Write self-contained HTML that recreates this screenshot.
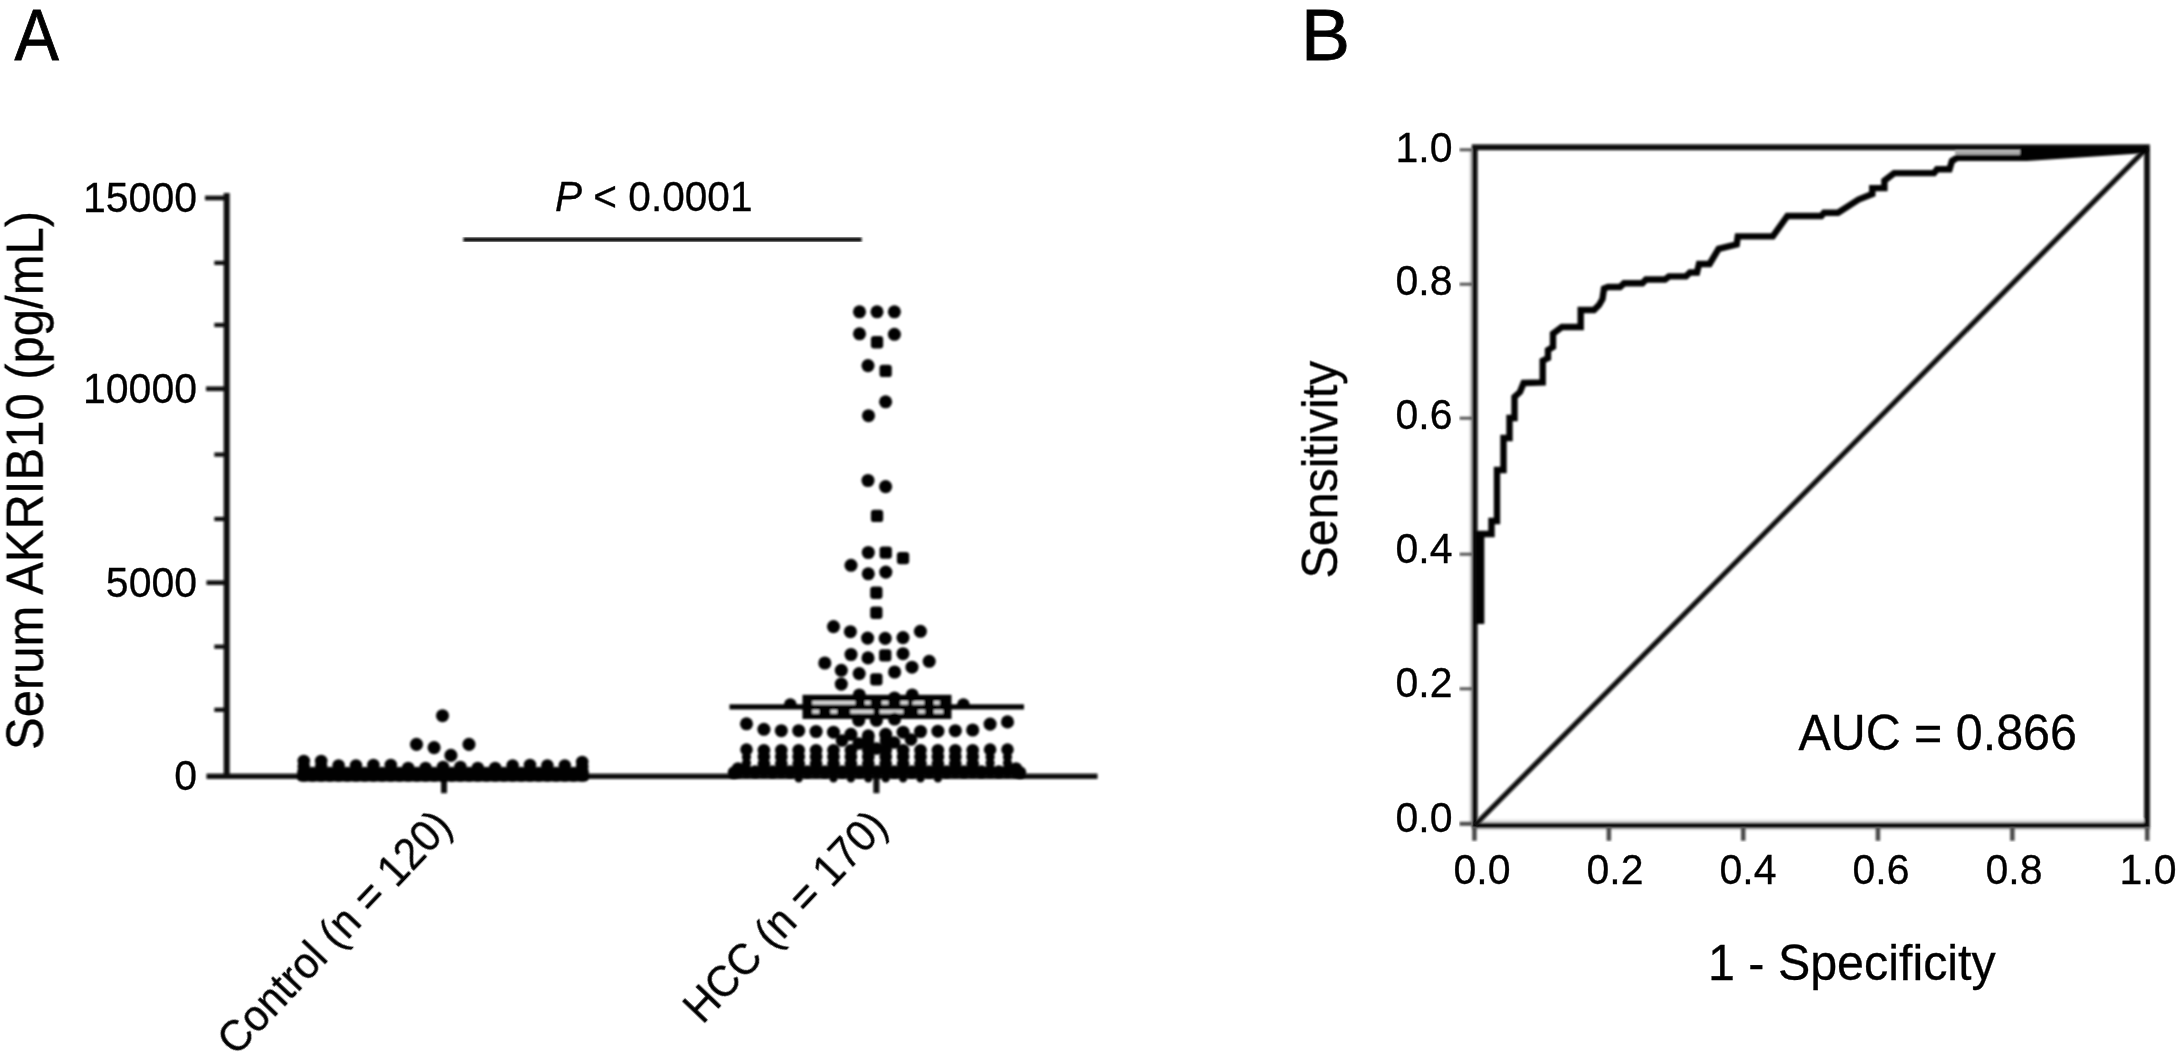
<!DOCTYPE html>
<html>
<head>
<meta charset="utf-8">
<title>Serum AKR1B10 in HCC</title>
<style>
html,body{margin:0;padding:0;background:#fff;}
body{width:2176px;height:1064px;overflow:hidden;}
svg{display:block;}
text{font-family:"Liberation Sans",sans-serif;fill:#000;stroke:#000;stroke-width:0.3px;}
.t40{font-size:41px;}
.t48{font-size:48.4px;}
.t68{font-size:70px;stroke-width:0.8px;}
</style>
</head>
<body>
<svg width="2176" height="1064" viewBox="0 0 2176 1064">
<rect x="0" y="0" width="2176" height="1064" fill="#ffffff"/>
<defs>
<filter id="soft" x="-2%" y="-2%" width="104%" height="104%"><feGaussianBlur stdDeviation="0.8"/></filter>
<filter id="soft2" x="-2%" y="-2%" width="104%" height="104%"><feGaussianBlur stdDeviation="1.3"/></filter>
</defs>

<!-- ================= PANEL A ================= -->
<g id="panelA" opacity="0.999">
<text class="t68" transform="translate(14.5,59.7) scale(0.95,1.03)">A</text>

<!-- axes A -->
<g fill="#0a0a0a" filter="url(#soft)">
<rect x="223.7" y="193" width="6" height="585.5"/>
<rect x="206.5" y="773.6" width="891" height="5.4"/>
<rect x="205" y="195.7" width="20" height="4.6"/>
<rect x="206" y="386.5" width="20" height="4.6"/>
<rect x="206.5" y="580.4" width="20" height="4.6"/>
<rect x="214.3" y="260.8" width="12" height="4.2"/>
<rect x="214.3" y="322.9" width="12" height="4.2"/>
<rect x="214.3" y="452.5" width="12" height="4.2"/>
<rect x="214.3" y="516.9" width="12" height="4.2"/>
<rect x="214.3" y="644.6" width="12" height="4.2"/>
<rect x="214.3" y="707.7" width="12" height="4.2"/>
<rect x="441" y="776" width="6" height="17.2"/>
<rect x="873.4" y="776" width="6" height="17.2"/>
</g>

<!-- y tick labels -->
<g class="t40" text-anchor="end">
<text transform="translate(197,211.5) scale(1,1.05)">15000</text>
<text transform="translate(197,403) scale(1,1.05)">10000</text>
<text transform="translate(197,597) scale(1,1.05)">5000</text>
<text transform="translate(197,790.2) scale(1,1.05)">0</text>
</g>

<!-- y axis title -->
<text style="font-size:49px" transform="translate(42.5,750) rotate(-90) scale(1,1.04)">Serum AKRIB10 (pg/mL)</text>

<!-- P value -->
<text style="font-size:40.6px" transform="translate(555,211) scale(1,1.055)"><tspan font-style="italic">P</tspan> &lt; 0.0001</text>
<rect x="463.3" y="237.3" width="398.4" height="4.6" fill="#0a0a0a" filter="url(#soft)"/>

<!-- category labels -->
<text style="font-size:42px" text-anchor="end" transform="translate(454,828) rotate(-46.5) scale(1,1.05)">Control (n = 120)</text>
<text style="font-size:42px" text-anchor="end" transform="translate(889.5,828) rotate(-46.5) scale(1,1.05)">HCC (n = 170)</text>

<g id="dotsA" fill="#050505" filter="url(#soft2)">

<rect x="297.3" y="768" width="291.4" height="13.6" rx="4" fill="#050505"/>
<rect x="729.5" y="704.3" width="294.5" height="5.2" fill="#050505"/>
<rect x="802.5" y="694.8" width="149" height="24.2" fill="#050505"/>
<rect x="812.3" y="701.0" width="43.0" height="3.6" fill="#d8d8d8"/>
<rect x="864.9" y="701.0" width="5.7" height="3.6" fill="#d8d8d8"/>
<rect x="881.8" y="701.0" width="6.6" height="3.6" fill="#d8d8d8"/>
<rect x="900.4" y="701.0" width="7.5" height="3.6" fill="#d8d8d8"/>
<rect x="912.4" y="701.0" width="11.6" height="3.6" fill="#d8d8d8"/>
<rect x="933.9" y="701.0" width="5.8" height="3.6" fill="#d8d8d8"/>
<rect x="812.3" y="709.8" width="6.7" height="3.8" fill="#d8d8d8"/>
<rect x="830.5" y="709.8" width="6.6" height="3.8" fill="#d8d8d8"/>
<rect x="850.4" y="709.8" width="23.1" height="3.8" fill="#d8d8d8"/>
<rect x="879.7" y="709.8" width="23.6" height="3.8" fill="#d8d8d8"/>
<rect x="918.2" y="709.8" width="6.6" height="3.8" fill="#d8d8d8"/>
<rect x="933.9" y="709.8" width="9.1" height="3.8" fill="#d8d8d8"/>
<circle cx="859.5" cy="311.8" r="6.55"/>
<circle cx="877.0" cy="311.8" r="6.55"/>
<circle cx="894.4" cy="311.8" r="6.55"/>
<circle cx="859.5" cy="333.8" r="6.55"/>
<rect x="870.9" y="336.1" width="12.3" height="12.3" rx="3.2"/>
<circle cx="894.4" cy="334.3" r="6.55"/>
<circle cx="868.0" cy="365.6" r="6.55"/>
<rect x="879.5" y="364.8" width="12.3" height="12.3" rx="3.2"/>
<circle cx="885.6" cy="401.8" r="6.55"/>
<circle cx="868.5" cy="415.7" r="6.55"/>
<circle cx="868.0" cy="480.5" r="6.55"/>
<circle cx="885.6" cy="486.6" r="6.55"/>
<rect x="870.9" y="509.8" width="12.3" height="12.3" rx="3.2"/>
<circle cx="868.3" cy="552.5" r="6.55"/>
<rect x="879.6" y="546.4" width="12.3" height="12.3" rx="3.2"/>
<rect x="896.9" y="551.9" width="12.3" height="12.3" rx="3.2"/>
<circle cx="851.0" cy="565.3" r="6.55"/>
<circle cx="868.3" cy="573.8" r="6.55"/>
<circle cx="885.8" cy="572.1" r="6.55"/>
<rect x="870.2" y="586.6" width="12.3" height="12.3" rx="3.2"/>
<rect x="870.2" y="606.6" width="12.3" height="12.3" rx="3.2"/>
<circle cx="833.5" cy="626.6" r="6.55"/>
<circle cx="850.4" cy="631.7" r="6.55"/>
<circle cx="867.6" cy="638.1" r="6.55"/>
<circle cx="885.2" cy="638.4" r="6.55"/>
<circle cx="903.0" cy="637.6" r="6.55"/>
<circle cx="920.4" cy="631.3" r="6.55"/>
<circle cx="851.0" cy="654.5" r="6.55"/>
<circle cx="868.0" cy="657.9" r="6.55"/>
<rect x="879.1" y="649.2" width="12.3" height="12.3" rx="3.2"/>
<circle cx="903.0" cy="653.7" r="6.55"/>
<circle cx="824.8" cy="663.0" r="6.55"/>
<circle cx="929.2" cy="661.3" r="6.55"/>
<circle cx="841.3" cy="670.3" r="6.55"/>
<circle cx="859.2" cy="673.6" r="6.55"/>
<rect x="870.2" y="673.2" width="12.3" height="12.3" rx="3.2"/>
<circle cx="894.6" cy="672.0" r="6.55"/>
<circle cx="912.0" cy="667.2" r="6.55"/>
<circle cx="841.3" cy="684.1" r="6.55"/>
<circle cx="859.3" cy="695.0" r="6.55"/>
<circle cx="894.5" cy="698.0" r="6.55"/>
<circle cx="912.2" cy="695.0" r="6.55"/>
<circle cx="858.7" cy="720.3" r="6.55"/>
<circle cx="876.4" cy="720.3" r="6.55"/>
<circle cx="894.6" cy="719.0" r="6.55"/>
<circle cx="746.5" cy="723.8" r="6.55"/>
<circle cx="763.9" cy="729.3" r="6.55"/>
<circle cx="781.3" cy="730.7" r="6.55"/>
<circle cx="798.7" cy="730.7" r="6.55"/>
<circle cx="816.1" cy="731.5" r="6.55"/>
<circle cx="833.5" cy="732.2" r="6.55"/>
<circle cx="850.9" cy="734.4" r="6.55"/>
<circle cx="868.3" cy="735.9" r="6.55"/>
<circle cx="885.7" cy="734.4" r="6.55"/>
<circle cx="903.1" cy="732.2" r="6.55"/>
<circle cx="920.5" cy="731.5" r="6.55"/>
<circle cx="937.9" cy="731.2" r="6.55"/>
<circle cx="955.3" cy="730.7" r="6.55"/>
<circle cx="972.7" cy="730.0" r="6.55"/>
<circle cx="990.1" cy="724.1" r="6.55"/>
<circle cx="1007.5" cy="721.9" r="6.55"/>
<circle cx="442.5" cy="715.7" r="6.55"/>
<circle cx="416.5" cy="744.4" r="6.55"/>
<circle cx="434.1" cy="747.6" r="6.55"/>
<circle cx="469.0" cy="744.4" r="6.55"/>
<circle cx="450.9" cy="755.4" r="6.55"/>
<circle cx="842.0" cy="740.5" r="6.3"/>
<circle cx="858.7" cy="743.5" r="6.3"/>
<circle cx="876.5" cy="748.5" r="6.3"/>
<circle cx="894.2" cy="742.5" r="6.3"/>
<circle cx="911.0" cy="739.5" r="6.3"/>
<circle cx="868.0" cy="741.0" r="6.3"/>
<circle cx="886.0" cy="741.0" r="6.3"/>
<circle cx="746.5" cy="749.6" r="6.3"/>
<circle cx="746.5" cy="771.0" r="6.3"/>
<circle cx="763.9" cy="750.3" r="6.3"/>
<circle cx="763.9" cy="757.0" r="6.3"/>
<circle cx="763.9" cy="764.0" r="6.3"/>
<circle cx="763.9" cy="771.0" r="6.3"/>
<circle cx="781.3" cy="750.3" r="6.3"/>
<circle cx="781.3" cy="757.0" r="6.3"/>
<circle cx="781.3" cy="764.0" r="6.3"/>
<circle cx="781.3" cy="771.0" r="6.3"/>
<circle cx="798.7" cy="750.3" r="6.3"/>
<circle cx="798.7" cy="757.0" r="6.3"/>
<circle cx="798.7" cy="764.0" r="6.3"/>
<circle cx="798.7" cy="771.0" r="6.3"/>
<circle cx="816.1" cy="750.3" r="6.3"/>
<circle cx="816.1" cy="757.0" r="6.3"/>
<circle cx="816.1" cy="764.0" r="6.3"/>
<circle cx="816.1" cy="771.0" r="6.3"/>
<circle cx="833.5" cy="750.3" r="6.3"/>
<circle cx="833.5" cy="757.0" r="6.3"/>
<circle cx="833.5" cy="764.0" r="6.3"/>
<circle cx="833.5" cy="771.0" r="6.3"/>
<circle cx="850.9" cy="750.3" r="6.3"/>
<circle cx="850.9" cy="757.0" r="6.3"/>
<circle cx="850.9" cy="764.0" r="6.3"/>
<circle cx="850.9" cy="771.0" r="6.3"/>
<circle cx="868.3" cy="750.3" r="6.3"/>
<circle cx="868.3" cy="757.0" r="6.3"/>
<circle cx="868.3" cy="764.0" r="6.3"/>
<circle cx="868.3" cy="771.0" r="6.3"/>
<circle cx="885.7" cy="750.3" r="6.3"/>
<circle cx="885.7" cy="757.0" r="6.3"/>
<circle cx="885.7" cy="764.0" r="6.3"/>
<circle cx="885.7" cy="771.0" r="6.3"/>
<circle cx="903.1" cy="750.3" r="6.3"/>
<circle cx="903.1" cy="757.0" r="6.3"/>
<circle cx="903.1" cy="764.0" r="6.3"/>
<circle cx="903.1" cy="771.0" r="6.3"/>
<circle cx="920.5" cy="750.3" r="6.3"/>
<circle cx="920.5" cy="757.0" r="6.3"/>
<circle cx="920.5" cy="764.0" r="6.3"/>
<circle cx="920.5" cy="771.0" r="6.3"/>
<circle cx="937.9" cy="750.3" r="6.3"/>
<circle cx="937.9" cy="757.0" r="6.3"/>
<circle cx="937.9" cy="764.0" r="6.3"/>
<circle cx="937.9" cy="771.0" r="6.3"/>
<circle cx="955.3" cy="750.3" r="6.3"/>
<circle cx="955.3" cy="757.0" r="6.3"/>
<circle cx="955.3" cy="764.0" r="6.3"/>
<circle cx="955.3" cy="771.0" r="6.3"/>
<circle cx="972.7" cy="750.3" r="6.3"/>
<circle cx="972.7" cy="757.0" r="6.3"/>
<circle cx="972.7" cy="764.0" r="6.3"/>
<circle cx="972.7" cy="771.0" r="6.3"/>
<circle cx="990.1" cy="749.6" r="6.3"/>
<circle cx="990.1" cy="771.0" r="6.3"/>
<circle cx="1007.5" cy="749.6" r="6.3"/>
<circle cx="1007.5" cy="771.0" r="6.3"/>
<circle cx="737.8" cy="771.5" r="6.3"/>
<circle cx="755.2" cy="771.5" r="6.3"/>
<circle cx="772.6" cy="771.5" r="6.3"/>
<circle cx="790.0" cy="771.5" r="6.3"/>
<circle cx="807.4" cy="771.5" r="6.3"/>
<circle cx="824.8" cy="771.5" r="6.3"/>
<circle cx="842.2" cy="771.5" r="6.3"/>
<circle cx="859.6" cy="771.5" r="6.3"/>
<circle cx="877.0" cy="771.5" r="6.3"/>
<circle cx="894.4" cy="771.5" r="6.3"/>
<circle cx="911.8" cy="771.5" r="6.3"/>
<circle cx="929.2" cy="771.5" r="6.3"/>
<circle cx="946.6" cy="771.5" r="6.3"/>
<circle cx="964.0" cy="771.5" r="6.3"/>
<circle cx="981.4" cy="771.5" r="6.3"/>
<circle cx="998.8" cy="771.5" r="6.3"/>
<circle cx="1016.2" cy="771.5" r="6.3"/>
<circle cx="738.0" cy="768.5" r="6.3"/>
<circle cx="734.0" cy="772.5" r="6.3"/>
<circle cx="1016.0" cy="768.5" r="6.3"/>
<circle cx="1020.0" cy="772.5" r="6.3"/>
<circle cx="303.8" cy="761.0" r="6.3"/>
<circle cx="303.8" cy="766.5" r="6.3"/>
<circle cx="303.8" cy="772.0" r="6.3"/>
<circle cx="303.8" cy="775.5" r="6.3"/>
<circle cx="321.2" cy="761.0" r="6.3"/>
<circle cx="321.2" cy="766.5" r="6.3"/>
<circle cx="321.2" cy="772.0" r="6.3"/>
<circle cx="321.2" cy="775.5" r="6.3"/>
<circle cx="338.6" cy="765.5" r="6.3"/>
<circle cx="338.6" cy="768.8" r="6.3"/>
<circle cx="338.6" cy="772.0" r="6.3"/>
<circle cx="338.6" cy="775.5" r="6.3"/>
<circle cx="356.0" cy="765.5" r="6.3"/>
<circle cx="356.0" cy="768.8" r="6.3"/>
<circle cx="356.0" cy="772.0" r="6.3"/>
<circle cx="356.0" cy="775.5" r="6.3"/>
<circle cx="373.4" cy="765.0" r="6.3"/>
<circle cx="373.4" cy="768.5" r="6.3"/>
<circle cx="373.4" cy="772.0" r="6.3"/>
<circle cx="373.4" cy="775.5" r="6.3"/>
<circle cx="390.8" cy="765.0" r="6.3"/>
<circle cx="390.8" cy="768.5" r="6.3"/>
<circle cx="390.8" cy="772.0" r="6.3"/>
<circle cx="390.8" cy="775.5" r="6.3"/>
<circle cx="408.2" cy="768.0" r="6.3"/>
<circle cx="408.2" cy="770.0" r="6.3"/>
<circle cx="408.2" cy="772.0" r="6.3"/>
<circle cx="408.2" cy="775.5" r="6.3"/>
<circle cx="425.6" cy="768.0" r="6.3"/>
<circle cx="425.6" cy="770.0" r="6.3"/>
<circle cx="425.6" cy="772.0" r="6.3"/>
<circle cx="425.6" cy="775.5" r="6.3"/>
<circle cx="443.0" cy="767.0" r="6.3"/>
<circle cx="443.0" cy="769.5" r="6.3"/>
<circle cx="443.0" cy="772.0" r="6.3"/>
<circle cx="443.0" cy="775.5" r="6.3"/>
<circle cx="460.4" cy="767.0" r="6.3"/>
<circle cx="460.4" cy="769.5" r="6.3"/>
<circle cx="460.4" cy="772.0" r="6.3"/>
<circle cx="460.4" cy="775.5" r="6.3"/>
<circle cx="477.8" cy="768.0" r="6.3"/>
<circle cx="477.8" cy="770.0" r="6.3"/>
<circle cx="477.8" cy="772.0" r="6.3"/>
<circle cx="477.8" cy="775.5" r="6.3"/>
<circle cx="495.2" cy="768.0" r="6.3"/>
<circle cx="495.2" cy="770.0" r="6.3"/>
<circle cx="495.2" cy="772.0" r="6.3"/>
<circle cx="495.2" cy="775.5" r="6.3"/>
<circle cx="512.6" cy="765.5" r="6.3"/>
<circle cx="512.6" cy="768.8" r="6.3"/>
<circle cx="512.6" cy="772.0" r="6.3"/>
<circle cx="512.6" cy="775.5" r="6.3"/>
<circle cx="530.0" cy="765.0" r="6.3"/>
<circle cx="530.0" cy="768.5" r="6.3"/>
<circle cx="530.0" cy="772.0" r="6.3"/>
<circle cx="530.0" cy="775.5" r="6.3"/>
<circle cx="547.4" cy="765.5" r="6.3"/>
<circle cx="547.4" cy="768.8" r="6.3"/>
<circle cx="547.4" cy="772.0" r="6.3"/>
<circle cx="547.4" cy="775.5" r="6.3"/>
<circle cx="564.8" cy="765.5" r="6.3"/>
<circle cx="564.8" cy="768.8" r="6.3"/>
<circle cx="564.8" cy="772.0" r="6.3"/>
<circle cx="564.8" cy="775.5" r="6.3"/>
<circle cx="582.2" cy="762.0" r="6.3"/>
<circle cx="582.2" cy="767.0" r="6.3"/>
<circle cx="582.2" cy="772.0" r="6.3"/>
<circle cx="582.2" cy="775.5" r="6.3"/>
<circle cx="312.5" cy="773.0" r="6.3"/>
<circle cx="312.5" cy="775.5" r="6.3"/>
<circle cx="329.9" cy="773.0" r="6.3"/>
<circle cx="329.9" cy="775.5" r="6.3"/>
<circle cx="347.3" cy="773.0" r="6.3"/>
<circle cx="347.3" cy="775.5" r="6.3"/>
<circle cx="364.7" cy="773.0" r="6.3"/>
<circle cx="364.7" cy="775.5" r="6.3"/>
<circle cx="382.1" cy="773.0" r="6.3"/>
<circle cx="382.1" cy="775.5" r="6.3"/>
<circle cx="399.5" cy="773.0" r="6.3"/>
<circle cx="399.5" cy="775.5" r="6.3"/>
<circle cx="416.9" cy="773.0" r="6.3"/>
<circle cx="416.9" cy="775.5" r="6.3"/>
<circle cx="434.3" cy="773.0" r="6.3"/>
<circle cx="434.3" cy="775.5" r="6.3"/>
<circle cx="451.7" cy="773.0" r="6.3"/>
<circle cx="451.7" cy="775.5" r="6.3"/>
<circle cx="469.1" cy="773.0" r="6.3"/>
<circle cx="469.1" cy="775.5" r="6.3"/>
<circle cx="486.5" cy="773.0" r="6.3"/>
<circle cx="486.5" cy="775.5" r="6.3"/>
<circle cx="503.9" cy="773.0" r="6.3"/>
<circle cx="503.9" cy="775.5" r="6.3"/>
<circle cx="521.3" cy="773.0" r="6.3"/>
<circle cx="521.3" cy="775.5" r="6.3"/>
<circle cx="538.7" cy="773.0" r="6.3"/>
<circle cx="538.7" cy="775.5" r="6.3"/>
<circle cx="556.1" cy="773.0" r="6.3"/>
<circle cx="556.1" cy="775.5" r="6.3"/>
<circle cx="573.5" cy="773.0" r="6.3"/>
<circle cx="573.5" cy="775.5" r="6.3"/>
<circle cx="746.5" cy="757.0" r="4.6"/>
<circle cx="746.5" cy="763.0" r="4.6"/>
<circle cx="990.1" cy="757.0" r="4.6"/>
<circle cx="990.1" cy="763.0" r="4.6"/>
<circle cx="1007.5" cy="757.0" r="4.6"/>
<circle cx="1007.5" cy="763.0" r="4.6"/>
<circle cx="798.7" cy="778.8" r="3.8"/>
<circle cx="833.5" cy="778.8" r="3.8"/>
<circle cx="850.9" cy="778.8" r="3.8"/>
<circle cx="868.3" cy="778.8" r="3.8"/>
<circle cx="885.7" cy="778.8" r="3.8"/>
<circle cx="903.1" cy="778.8" r="3.8"/>
<circle cx="920.5" cy="778.8" r="3.8"/>
<circle cx="937.9" cy="778.8" r="3.8"/>
<path d="M783.8,705 A6.5,6.8 0 0 1 796.8,705 Z"/>
<path d="M956.9,705 A6.5,6.8 0 0 1 969.9,705 Z"/>
</g>
</g>

<!-- ================= PANEL B ================= -->
<g id="panelB" opacity="0.999">
<text class="t68" transform="translate(1301,59.7) scale(1.05,1.03)">B</text>

<!-- frame -->
<g id="frameB" filter="url(#soft)">
<rect x="1469.6" y="150" width="2.6" height="673" fill="#cdcdcd"/>
<rect x="1478" y="819.6" width="666" height="3.2" fill="#e2e2e2"/>
<rect x="1472" y="828.2" width="678" height="2.2" fill="#e6e6e6"/>
<rect x="1474.7" y="147.3" width="672.3" height="678.2" fill="none" stroke="#0a0a0a" stroke-width="5.8"/>
</g>

<!-- diagonal -->
<line x1="1475" y1="825" x2="2147" y2="148" stroke="#0a0a0a" stroke-width="5" filter="url(#soft)"/>

<!-- y ticks -->
<g fill="#4a4a4a" filter="url(#soft)">
<rect x="1459.5" y="148.4" width="13" height="2.8"/>
<rect x="1459.5" y="282.8" width="13" height="2.8"/>
<rect x="1459.5" y="416.8" width="13" height="2.8"/>
<rect x="1459.5" y="552.8" width="13" height="2.8"/>
<rect x="1459.5" y="687.4" width="13" height="2.8"/>
<rect x="1459.5" y="821.8" width="13" height="4"/>
</g>
<!-- x ticks -->
<g fill="#4a4a4a" filter="url(#soft)">
<rect x="1472.2" y="827" width="4.5" height="13.8"/>
<rect x="1606.6" y="827" width="4.5" height="13.8"/>
<rect x="1741" y="827" width="4.5" height="13.8"/>
<rect x="1875.7" y="827" width="4.5" height="13.8"/>
<rect x="2010.1" y="827" width="4.5" height="13.8"/>
<rect x="2145" y="827" width="4.5" height="13.8"/>
</g>

<!-- y labels -->
<g class="t40" text-anchor="end">
<text transform="translate(1452.5,161.6) scale(1,1.05)">1.0</text>
<text transform="translate(1452.5,295.4) scale(1,1.05)">0.8</text>
<text transform="translate(1452.5,429.3) scale(1,1.05)">0.6</text>
<text transform="translate(1452.5,563.2) scale(1,1.05)">0.4</text>
<text transform="translate(1452.5,697.3) scale(1,1.05)">0.2</text>
<text transform="translate(1452.5,831.5) scale(1,1.05)">0.0</text>
</g>
<!-- x labels -->
<g class="t40" text-anchor="middle">
<text transform="translate(1482,884) scale(1,1.05)">0.0</text>
<text transform="translate(1615,884) scale(1,1.05)">0.2</text>
<text transform="translate(1748,884) scale(1,1.05)">0.4</text>
<text transform="translate(1881,884) scale(1,1.05)">0.6</text>
<text transform="translate(2014,884) scale(1,1.05)">0.8</text>
<text transform="translate(2148,884) scale(1,1.05)">1.0</text>
</g>

<text class="t48" transform="translate(1337.5,578.5) rotate(-90) scale(1,1.05)">Sensitivity</text>
<text class="t48" transform="translate(1708,980.5) scale(1,1.05)">1 - Specificity</text>
<text class="t48" transform="translate(1798.5,749.5) scale(1,1.05)">AUC = 0.866</text>

<g id="roc" filter="url(#soft)">
<polyline fill="none" stroke="#050505" stroke-width="6.4" stroke-linejoin="miter" stroke-linecap="butt" points="1481,624 1481,534 1491.5,534 1491.5,521 1497,521 1497,470 1503.5,470 1503.5,438 1509.5,438 1509.5,418 1514.5,418 1514.5,397 1520,392 1523.6,383 1542.7,382.5 1542.7,360.7 1548,358 1548,350 1553,347 1553,333.7 1562,327 1580.7,327 1580.7,310 1594,310 1599,305 1602.5,299 1604,288.6 1608,287 1620,287 1624,283.3 1642.4,283.3 1646,279.5 1665,279.5 1669,276.4 1686,276.4 1690,272.5 1697,272.5 1699,264 1709.6,264 1718.6,248.8 1736.7,244.3 1737.8,236.4 1772.8,236.4 1787.4,216 1821.3,216 1824,212.7 1838,212.7 1858.5,199.5 1872.3,194.1 1872.3,188.1 1884.4,188.1 1884.4,180.6 1894.1,173.1 1934,173.1 1937,169.2 1949.5,169.2 1952,160.9 1957.2,157.7 2024,157.7"/>
<polygon fill="#050505" points="2020,147 2147,147 2147,153 2027,160.9 2020,160.9"/>
<rect x="1955" y="150.2" width="65" height="4.2" fill="#a8a8a8"/>
<rect x="1475" y="531" width="9.2" height="93" fill="#050505"/>
</g>
</g>
</svg>
</body>
</html>
